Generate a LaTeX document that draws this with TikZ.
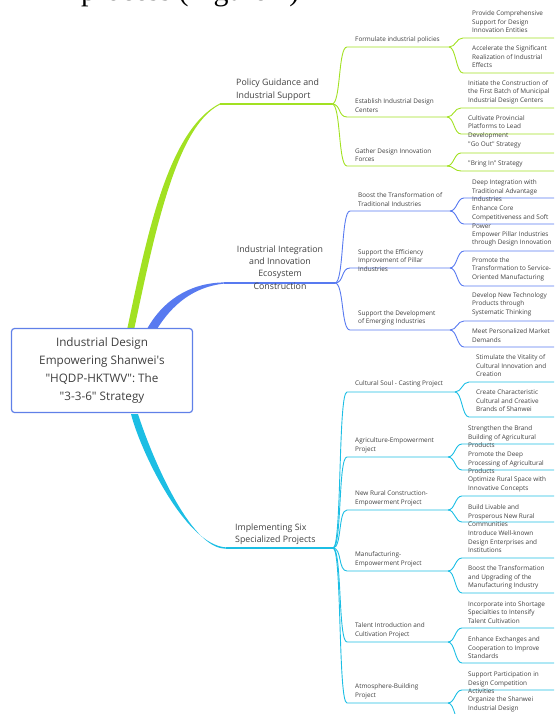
\documentclass[tikz,border=0pt]{standalone}
\usepackage{fontspec}
\setmainfont{Open Sans}
\newfontfamily\serifpart{Liberation Serif}
\usetikzlibrary{calc}
\definecolor{G}{RGB}{162,225,34}
\definecolor{B}{RGB}{88,122,240}
\definecolor{C}{RGB}{28,190,228}
\definecolor{boxc}{RGB}{96,128,232}
\definecolor{txt}{RGB}{64,64,64}
\tikzset{
  lbl/.style={inner sep=0pt, anchor=west, align=left, text=txt, font=\fontsize{6.4}{8.6}\selectfont},
  mainlbl/.style={inner sep=0pt, anchor=west, align=left, text=txt, font=\fontsize{8.8}{12.2}\selectfont},
  lnG/.style={draw=G, line width=0.9pt},
  lnB/.style={draw=B, line width=0.9pt},
  lnC/.style={draw=C, line width=0.9pt},
}
\begin{document}
\begin{tikzpicture}[x=1pt,y=-1pt]
\useasboundingbox (0,0) rectangle (554,714);
\clip (0,0) rectangle (554,714);
% clipped line of text at the top
\node[anchor=base west, inner sep=0pt, font=\serifpart\fontsize{30}{30}\selectfont] (toptext) at (81,0.6) {process (Figure 1)};

% key coordinates
\coordinate (gR) at (130.5,330); \coordinate (gM) at (220,104); \coordinate (gP) at (332,104);
\coordinate (bR) at (152,329);   \coordinate (bM) at (224,283); \coordinate (bP) at (335,283);
\coordinate (cR) at (134.5,414); \coordinate (cM) at (226,548); \coordinate (cP) at (333,548);

% thick main branches
\fill[G] ($(gR)+(-3.5,0)$) .. controls (147,235) and (168,130) .. ($(gM)+(0,-0.6)$) -- ($(gM)+(0,0.6)$) .. controls (176,126) and (154,236) .. ($(gR)+(3.5,0)$) -- cycle;
\draw[G, line width=1.3pt] (gM) -- (gP);
\fill[B] ($(bR)+(-5,0)$) .. controls (162,302) and (188,283) .. ($(bM)+(0,-0.6)$) -- ($(bM)+(0,0.6)$) .. controls (193,287) and (172,305) .. ($(bR)+(5,0)$) -- cycle;
\draw[B, line width=1.3pt] (bM) -- (bP);
\fill[C] ($(cR)+(-3.5,0)$) .. controls (140,450) and (185,545) .. ($(cM)+(0,-0.6)$) -- ($(cM)+(0,0.6)$) .. controls (190,550) and (150,452) .. ($(cR)+(3.5,0)$) -- cycle;
\draw[C, line width=1.3pt] (cM) -- (cP);

% root
\node[draw=boxc, line width=1.2pt, rounded corners=3pt, fill=white, minimum width=181pt, minimum height=84pt, align=center, text=txt, inner sep=0pt, font=\fontsize{11.7}{18}\selectfont] (root) at (102,370.5) {Industrial Design\\Empowering Shanwei\textquotesingle s\\\textquotedbl HQDP-HKTWV\textquotedbl: The\\\textquotedbl 3-3-6\textquotedbl\ Strategy};

% main labels
\node[mainlbl, font=\fontsize{8.8}{12.8}\selectfont] (gL) at (236,89.5) {Policy Guidance and\\Industrial Support};
\node[mainlbl, anchor=center, align=center] (bL) at (280,267.5) {Industrial Integration\\and Innovation\\Ecosystem\\Construction};
\node[mainlbl] (cL) at (235,534) {Implementing Six\\Specialized Projects};

% ===== green children =====
\coordinate (g1s) at (347,47);  \coordinate (g1e) at (449,47);
\coordinate (g2s) at (347,117); \coordinate (g2e) at (447,117);
\coordinate (g3s) at (347,166); \coordinate (g3e) at (447,166);
\foreach \c in {g1,g2,g3} {\draw[lnG] (gP) .. controls +(9,0) and +(-9,0) .. (\c s) -- (\c e);}
\node[lbl] (g1) at (355,40) {Formulate industrial policies};
\node[lbl] (g2) at (355,105.5) {Establish Industrial Design\\Centers};
\node[lbl] (g3) at (355,155) {Gather Design Innovation\\Forces};
% green grandchildren
\coordinate (g1as) at (463,38);  \coordinate (g1ae) at (560,38);
\coordinate (g1bs) at (463,73);  \coordinate (g1be) at (560,73);
\coordinate (g2as) at (461,108); \coordinate (g2ae) at (560,108);
\coordinate (g2bs) at (461,134); \coordinate (g2be) at (560,134);
\coordinate (g3as) at (461,153); \coordinate (g3ae) at (560,153);
\coordinate (g3bs) at (461,171); \coordinate (g3be) at (560,171);
\foreach \p/\c in {g1/g1a,g1/g1b,g2/g2a,g2/g2b,g3/g3a,g3/g3b} {\draw[lnG] (\p e) .. controls +(7,0) and +(-7,0) .. (\c s) -- (\c e);}
\node[lbl] (g1a) at (472,21.7) {Provide Comprehensive\\Support for Design\\Innovation Entities};
\node[lbl] (g1b) at (472,56.7) {Accelerate the Significant\\Realization of Industrial\\Effects};
\node[lbl] (g2a) at (468,92.3) {Initiate the Construction of\\the First Batch of Municipal\\Industrial Design Centers};
\node[lbl] (g2b) at (468,127.3) {Cultivate Provincial\\Platforms to Lead\\Development};
\node[lbl] (g3a) at (468,145) {\textquotedbl Go Out\textquotedbl\ Strategy};
\node[lbl] (g3b) at (468,164) {\textquotedbl Bring In\textquotedbl\ Strategy};

% ===== blue children =====
\coordinate (b1s) at (350,211); \coordinate (b1e) at (450,211);
\coordinate (b2s) at (350,268); \coordinate (b2e) at (450,268);
\coordinate (b3s) at (350,330); \coordinate (b3e) at (450,330);
\foreach \c in {b1,b2,b3} {\draw[lnB] (bP) .. controls +(9,0) and +(-9,0) .. (\c s) -- (\c e);}
\node[lbl] (b1) at (358,199.5) {Boost the Transformation of\\Traditional Industries};
\node[lbl] (b2) at (358,260.3) {Support the Efficiency\\Improvement of Pillar\\Industries};
\node[lbl] (b3) at (358,318) {Support the Development\\of Emerging Industries};
% blue grandchildren
\coordinate (b1as) at (464,198); \coordinate (b1ae) at (560,198);
\coordinate (b1bs) at (464,224); \coordinate (b1be) at (560,224);
\coordinate (b2as) at (464,251); \coordinate (b2ae) at (560,251);
\coordinate (b2bs) at (464,286); \coordinate (b2be) at (560,286);
\coordinate (b3as) at (464,321); \coordinate (b3ae) at (560,321);
\coordinate (b3bs) at (464,347); \coordinate (b3be) at (560,347);
\foreach \p/\c in {b1/b1a,b1/b1b,b2/b2a,b2/b2b,b3/b3a,b3/b3b} {\draw[lnB] (\p e) .. controls +(7,0) and +(-7,0) .. (\c s) -- (\c e);}
\node[lbl] (b1a) at (472,190.7) {Deep Integration with\\Traditional Advantage\\Industries};
\node[lbl] (b1b) at (472,217) {Enhance Core\\Competitiveness and Soft\\Power};
\node[lbl] (b2a) at (472,239) {Empower Pillar Industries\\through Design Innovation};
\node[lbl] (b2b) at (472,269.3) {Promote the\\Transformation to Service-\\Oriented Manufacturing};
\node[lbl] (b3a) at (472,304.3) {Develop New Technology\\Products through\\Systematic Thinking};
\node[lbl] (b3b) at (472,335.5) {Meet Personalized Market\\Demands};

% ===== cyan children =====
\coordinate (c1s) at (347,392); \coordinate (c1e) at (455,392);
\coordinate (c2s) at (347,457); \coordinate (c2e) at (448,457);
\coordinate (c3s) at (347,510); \coordinate (c3e) at (448,510);
\coordinate (c4s) at (347,571); \coordinate (c4e) at (448,571);
\coordinate (c5s) at (347,642); \coordinate (c5e) at (448,642);
\coordinate (c6s) at (347,703); \coordinate (c6e) at (448,703);
\foreach \c in {c1,c2,c3,c4,c5,c6} {\draw[lnC] (cP) .. controls +(9,0) and +(-9,0) .. (\c s) -- (\c e);}
\node[lbl] (c1) at (355,384) {Cultural Soul - Casting Project};
\node[lbl] (c2) at (355,445.5) {Agriculture-Empowerment\\Project};
\node[lbl] (c3) at (355,498.5) {New Rural Construction-\\Empowerment Project};
\node[lbl] (c4) at (355,559.5) {Manufacturing-\\Empowerment Project};
\node[lbl] (c5) at (355,630.5) {Talent Introduction and\\Cultivation Project};
\node[lbl] (c6) at (355,691.5) {Atmosphere-Building\\Project};
% cyan grandchildren
\coordinate (c1as) at (469,382); \coordinate (c1ae) at (560,382);
\coordinate (c1bs) at (469,417); \coordinate (c1be) at (560,417);
\coordinate (c2as) at (462,444); \coordinate (c2ae) at (560,444);
\coordinate (c2bs) at (462,470); \coordinate (c2be) at (560,470);
\coordinate (c3as) at (462,496); \coordinate (c3ae) at (560,496);
\coordinate (c3bs) at (462,522); \coordinate (c3be) at (560,522);
\coordinate (c4as) at (462,558); \coordinate (c4ae) at (560,558);
\coordinate (c4bs) at (462,593); \coordinate (c4be) at (560,593);
\coordinate (c5as) at (462,628); \coordinate (c5ae) at (560,628);
\coordinate (c5bs) at (462,663); \coordinate (c5be) at (560,663);
\coordinate (c6as) at (462,690); \coordinate (c6ae) at (560,690);
\coordinate (c6bs) at (462,725); \coordinate (c6be) at (560,725);
\foreach \p/\c in {c1/c1a,c1/c1b,c2/c2a,c2/c2b,c3/c3a,c3/c3b,c4/c4a,c4/c4b,c5/c5a,c5/c5b,c6/c6a,c6/c6b} {\draw[lnC] (\p e) .. controls +(7,0) and +(-7,0) .. (\c s) -- (\c e);}
\node[lbl] (c1a) at (476,365.7) {Stimulate the Vitality of\\Cultural Innovation and\\Creation};
\node[lbl] (c1b) at (476,400.7) {Create Characteristic\\Cultural and Creative\\Brands of Shanwei};
\node[lbl] (c2a) at (468,436.7) {Strengthen the Brand\\Building of Agricultural\\Products};
\node[lbl] (c2b) at (468,462.7) {Promote the Deep\\Processing of Agricultural\\Products};
\node[lbl] (c3a) at (468,484.5) {Optimize Rural Space with\\Innovative Concepts};
\node[lbl] (c3b) at (468,515.7) {Build Livable and\\Prosperous New Rural\\Communities};
\node[lbl] (c4a) at (468,541.7) {Introduce Well-known\\Design Enterprises and\\Institutions};
\node[lbl] (c4b) at (468,577.7) {Boost the Transformation\\and Upgrading of the\\Manufacturing Industry};
\node[lbl] (c5a) at (468,612.3) {Incorporate into Shortage\\Specialties to Intensify\\Talent Cultivation};
\node[lbl] (c5b) at (468,647.7) {Enhance Exchanges and\\Cooperation to Improve\\Standards};
\node[lbl] (c6a) at (468,682.7) {Support Participation in\\Design Competition\\Activities};
\node[lbl] (c6b) at (468,704.5) {Organize the Shanwei\\Industrial Design};
\end{tikzpicture}
\end{document}
